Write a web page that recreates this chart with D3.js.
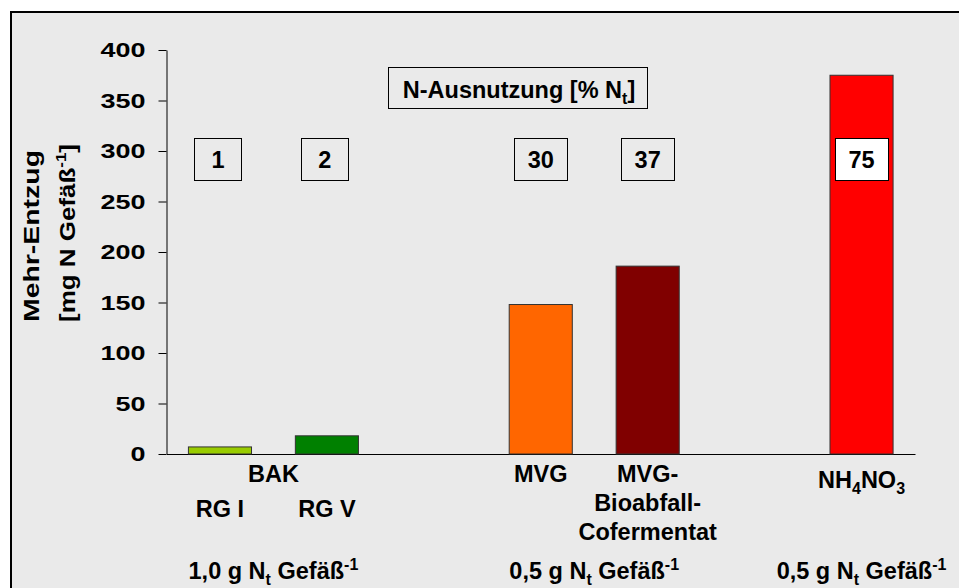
<!DOCTYPE html>
<html>
<head>
<meta charset="utf-8">
<script src="https://cdn.jsdelivr.net/npm/d3@7"></script>
<style>
  body { margin: 0; background: #fff; }
  svg text { font-family: "Liberation Sans", Arial, sans-serif; font-weight: bold; fill: #000; }
</style>
</head>
<body>
<svg id="chart" width="959" height="588"></svg>
<script>
// slots on the x axis, empty ones leave the gaps between the groups
const slots = ["RG I", "RG V", "gap1", "MVG", "MVG-Cof", "gap2", "NH4NO3"];
const bars = ["RG I", "RG V", "MVG", "MVG-Cof", "NH4NO3"];
const values = [7, 18, 148, 186, 375];
const utilization = [1, 2, 30, 37, 75];
const barColors = ["#99cc00", "#008000", "#ff6600", "#800000", "#ff0000"];
const yTicks = [0, 50, 100, 150, 200, 250, 300, 350, 400];
const catLabels = [["RG I"], ["RG V"], ["MVG"], ["MVG-", "Bioabfall-", "Cofermentat"], ["NH{_4}NO{_3}"]];
const groupLabel = "BAK";
const groupMembers = ["RG I", "RG V"];
const doseLabels = ["1,0 g N{_t} Gefäß{^-1}", "0,5 g N{_t} Gefäß{^-1}", "0,5 g N{_t} Gefäß{^-1}"];
const doseGroups = [["RG I", "RG V"], ["MVG", "MVG-Cof"], ["NH4NO3"]];

const svg = d3.select("#chart");
const FS = 23.5;

// writes text with {_x} subscripts and {^x} superscripts as tspans
function rich(textSel, str, size) {
  const parts = str.split(/(\{[_^][^}]*\})/).filter(p => p.length);
  let back = 0;
  parts.forEach(p => {
    const m = p.match(/^\{([_^])([^}]*)\}$/);
    if (m) {
      const shift = m[1] === "_" ? Math.round(size * 0.27) : -Math.round(size * 0.4);
      textSel.append("tspan").attr("dy", shift + back)
        .style("font-size", Math.round(size * 0.66) + "px").text(m[2]);
      back = -shift;
    } else {
      textSel.append("tspan").attr("dy", back).text(p);
      back = 0;
    }
  });
}

// frame
svg.append("rect")
  .attr("x", 11).attr("y", 12).attr("width", 980).attr("height", 600)
  .attr("fill", "#eaeaea").attr("stroke", "#000").attr("stroke-width", 2);

const x = d3.scaleBand().domain(slots).range([166.5, 915]).paddingInner(0.41).paddingOuter(0.205);
const y = d3.scaleLinear().domain([0, 400]).range([454, 50]);
const cx = k => x(k) + x.bandwidth() / 2;

// y axis
const yAxis = svg.append("g")
  .attr("transform", "translate(166.5,0)")
  .call(d3.axisLeft(y).tickValues(yTicks).tickSize(8).tickPadding(13).tickSizeOuter(0));
yAxis.select(".domain").attr("stroke", "#000");
yAxis.selectAll(".tick line").attr("stroke", "#000");
yAxis.selectAll(".tick text")
  .style("font-size", "21px")
  .attr("textLength", d => String(d).length * 15)
  .attr("lengthAdjust", "spacingAndGlyphs");

// x axis line
svg.append("g")
  .attr("transform", `translate(0,${y(0)})`)
  .call(d3.axisBottom(x).tickValues([]).tickSizeOuter(0))
  .select(".domain").attr("stroke", "#000");

// bars
svg.append("g").selectAll("rect")
  .data(bars)
  .join("rect")
  .attr("x", d => x(d))
  .attr("y", (d, i) => y(values[i]))
  .attr("width", x.bandwidth())
  .attr("height", (d, i) => y(0) - y(values[i]))
  .attr("fill", (d, i) => barColors[i])
  .attr("stroke", "#333").attr("stroke-width", 1);

// y title
const t1 = svg.append("text")
  .attr("transform", "translate(39,236) rotate(-90)")
  .attr("text-anchor", "middle").style("font-size", "21.5px")
  .attr("textLength", 172).attr("lengthAdjust", "spacingAndGlyphs");
rich(t1, "Mehr-Entzug", 21.5);
const t2 = svg.append("text")
  .attr("transform", "translate(75,233) rotate(-90)")
  .attr("text-anchor", "middle").style("font-size", "21.5px")
  .attr("textLength", 178).attr("lengthAdjust", "spacingAndGlyphs");
rich(t2, "[mg N Gefäß{^-1}]", 21.5);

// utilisation legend box
const lg = svg.append("g");
lg.append("rect").attr("x", 388.5).attr("y", 67.5).attr("width", 259).attr("height", 41)
  .attr("fill", "none").attr("stroke", "#000").attr("stroke-width", 1);
const lt = lg.append("text").attr("x", 519).attr("y", 97.5).attr("text-anchor", "middle").style("font-size", FS + "px");
rich(lt, "N-Ausnutzung [% N{_t}]", FS);

// utilisation boxes
const ub = svg.append("g").selectAll("g").data(bars).join("g");
ub.append("rect")
  .attr("x", (d, i) => Math.round(cx(d) - (utilization[i] < 10 ? 25.5 : 26.5)) + 0.5)
  .attr("y", 138.5)
  .attr("width", (d, i) => utilization[i] < 10 ? 47 : 53)
  .attr("height", 42)
  .attr("fill", (d, i) => i === bars.length - 1 ? "#fff" : "none")
  .attr("stroke", "#000").attr("stroke-width", 1);
ub.append("text")
  .attr("x", (d, i) => cx(d) - (utilization[i] < 10 ? 2 : 0)).attr("y", 168)
  .attr("text-anchor", "middle").style("font-size", FS + "px")
  .text((d, i) => utilization[i]);

// category labels
const rowY = [481.5, 510.5, 539.5];
bars.forEach((b, i) => {
  const lines = catLabels[i];
  const base = groupMembers.includes(b) ? 517 : (b === "NH4NO3" ? 488 : rowY[0]);
  lines.forEach((ln, j) => {
    const t = svg.append("text").attr("x", cx(b)).attr("y", base + j * 29)
      .attr("text-anchor", "middle").style("font-size", FS + "px");
    rich(t, ln, FS);
  });
});
svg.append("text")
  .attr("x", d3.mean(groupMembers, cx)).attr("y", rowY[0])
  .attr("text-anchor", "middle").style("font-size", FS + "px")
  .text(groupLabel);

// dose labels
doseLabels.forEach((lab, i) => {
  const t = svg.append("text")
    .attr("x", d3.mean(doseGroups[i], cx)).attr("y", 579)
    .attr("text-anchor", "middle").style("font-size", FS + "px");
  rich(t, lab, FS);
});
</script>
</body>
</html>
